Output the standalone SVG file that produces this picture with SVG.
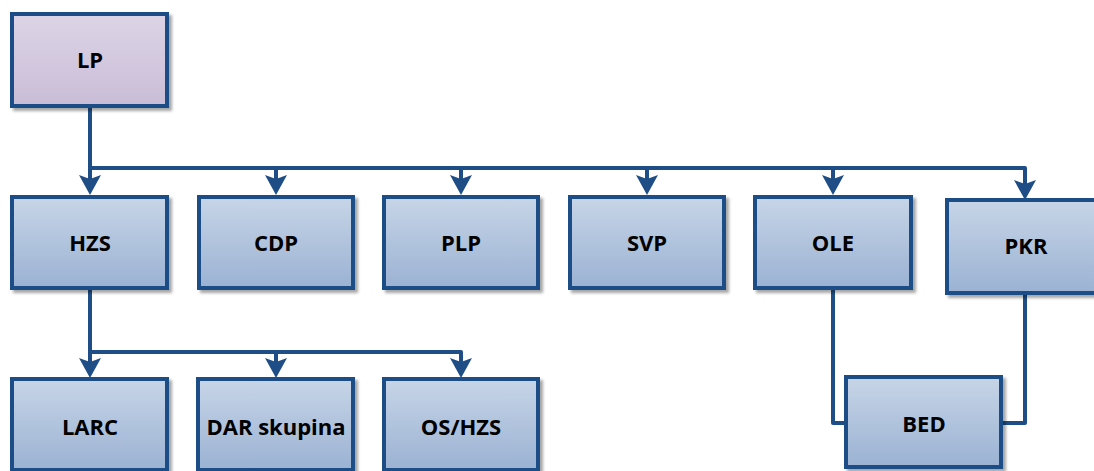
<svg xmlns="http://www.w3.org/2000/svg" width="1094" height="471" viewBox="0 0 1094 471">
  <defs>
    <linearGradient id="gBlue" x1="0" y1="0" x2="0" y2="1">
      <stop offset="0" stop-color="#c7d5e7"/>
      <stop offset="1" stop-color="#9bb2d3"/>
    </linearGradient>
    <linearGradient id="gLav" x1="0" y1="0" x2="0" y2="1">
      <stop offset="0" stop-color="#ddd4e6"/>
      <stop offset="1" stop-color="#c9bdd7"/>
    </linearGradient>
    <filter id="shadow" x="-10%" y="-10%" width="130%" height="130%">
      <feDropShadow dx="3" dy="3" stdDeviation="1.5" flood-color="#000" flood-opacity="0.35"/>
    </filter>
    <marker id="arrow" markerUnits="userSpaceOnUse" markerWidth="26" markerHeight="26" viewBox="-22 -13 26 26" refX="-5" refY="0" orient="auto">
      <path d="M0,0 L-20,-11 L-16,0 L-20,11 Z" fill="#1f4e86"/>
    </marker>
  </defs>
  <style>
    .box { stroke: #1f4e86; stroke-width: 4; filter: url(#shadow); }
    .blue { fill: url(#gBlue); }
    .lav { fill: url(#gLav); }
    .lbl { font-family: "Open Sans", "Liberation Sans", sans-serif; font-weight: 700; font-size: 22px; fill: #000; text-anchor: middle; }
    .conn path { fill: none; stroke: #1f4e86; stroke-width: 4; stroke-linejoin: round; }
    .arr { marker-end: url(#arrow); }
  </style>

  <g id="connectors" class="conn">
    <path class="arr" d="M90,106 V190"/>
    <path class="arr" d="M90,168 H276 V190"/>
    <path class="arr" d="M90,168 H461 V190"/>
    <path class="arr" d="M90,168 H647 V190"/>
    <path class="arr" d="M90,168 H833 V190"/>
    <path class="arr" d="M90,168 H1025 V195"/>
    <path class="arr" d="M90,288 V373"/>
    <path class="arr" d="M90,352 H276 V373"/>
    <path class="arr" d="M90,352 H461 V373"/>
    <path d="M833,288 V423 H846"/>
    <path d="M1025,293 V423 H1001"/>
  </g>

  <g id="node-LP">
    <rect class="box lav" x="12" y="14" width="155" height="92"/>
    <text class="lbl" x="90" y="68">LP</text>
  </g>
  <g id="node-HZS">
    <rect class="box blue" x="12" y="197" width="155" height="91"/>
    <text class="lbl" x="90" y="251">HZS</text>
  </g>
  <g id="node-CDP">
    <rect class="box blue" x="199" y="197" width="154" height="91"/>
    <text class="lbl" x="276" y="251">CDP</text>
  </g>
  <g id="node-PLP">
    <rect class="box blue" x="384" y="197" width="154" height="91"/>
    <text class="lbl" x="461" y="251">PLP</text>
  </g>
  <g id="node-SVP">
    <rect class="box blue" x="570" y="197" width="154" height="91"/>
    <text class="lbl" x="647" y="251">SVP</text>
  </g>
  <g id="node-OLE">
    <rect class="box blue" x="755" y="197" width="156" height="91"/>
    <text class="lbl" x="833" y="251">OLE</text>
  </g>
  <g id="node-PKR">
    <rect class="box blue" x="947" y="200" width="156" height="93"/>
    <text class="lbl" x="1026" y="254">PKR</text>
  </g>
  <g id="node-BED">
    <rect class="box blue" x="846" y="377" width="155" height="90"/>
    <text class="lbl" x="924" y="432">BED</text>
  </g>
  <g id="node-LARC">
    <rect class="box blue" x="12" y="379" width="155" height="91"/>
    <text class="lbl" x="90" y="435">LARC</text>
  </g>
  <g id="node-DAR">
    <rect class="box blue" x="198" y="379" width="155" height="91"/>
    <text class="lbl" x="276" y="435">DAR skupina</text>
  </g>
  <g id="node-OSHZS">
    <rect class="box blue" x="384" y="379" width="154" height="91"/>
    <text class="lbl" x="461" y="435">OS/HZS</text>
  </g>
</svg>
